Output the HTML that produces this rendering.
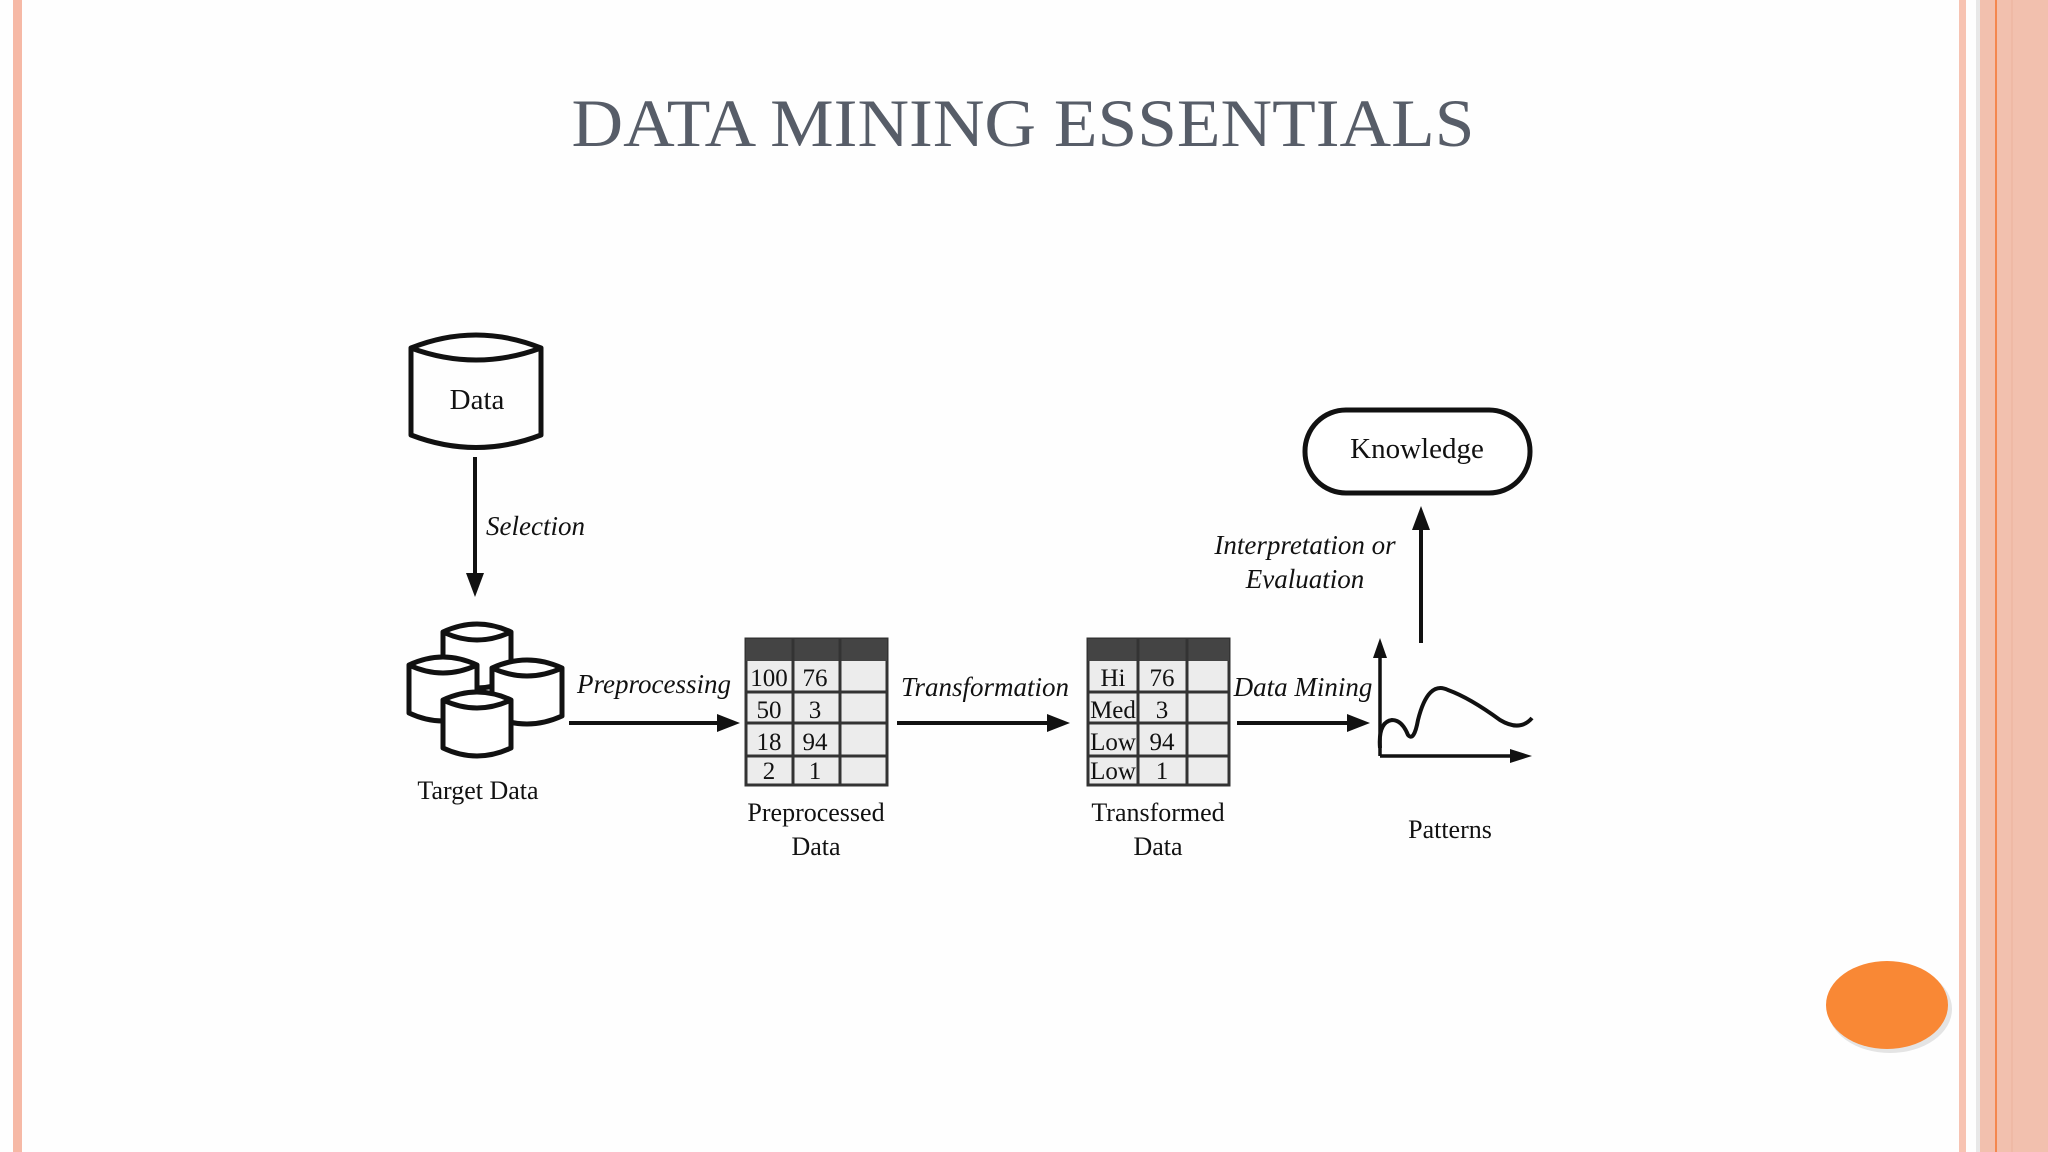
<!DOCTYPE html>
<html><head><meta charset="utf-8"><style>
html,body{margin:0;padding:0;background:#fff;}
body{width:2048px;height:1152px;overflow:hidden;position:relative;}
</style></head><body>
<svg width="2048" height="1152" viewBox="0 0 2048 1152" xmlns="http://www.w3.org/2000/svg" style="position:absolute;left:0;top:0">
<defs>
<marker id="ah" markerWidth="10" markerHeight="10" refX="9" refY="5" orient="auto" markerUnits="userSpaceOnUse" viewBox="0 0 10 10">
</marker>
</defs>
<rect width="2048" height="1152" fill="#fefefe"/>
<!-- borders -->
<rect x="13" y="0" width="9" height="1152" fill="#f6b9a6"/>
<rect x="1959" y="0" width="7" height="1152" fill="#f7c3b2"/>
<rect x="1976" y="0" width="4" height="1152" fill="#e8e8e8"/>
<rect x="1980" y="0" width="68" height="1152" fill="#f2c0ae"/>
<rect x="1995" y="0" width="2" height="1152" fill="#f4874f"/>
<rect x="2011" y="0" width="2" height="1152" fill="#efb9a5"/>
<ellipse cx="1890" cy="1009" rx="62" ry="44" fill="#c9c9c9" opacity="0.5"/>
<ellipse cx="1887" cy="1005" rx="61" ry="44" fill="#f98835"/>
<!-- title -->
<text x="1023" y="146" text-anchor="middle" font-family="Liberation Serif, serif" font-size="68" fill="#575d68" textLength="903" lengthAdjust="spacingAndGlyphs">DATA MINING ESSENTIALS</text>

<g fill="none" stroke="#111" stroke-width="5" stroke-linejoin="round">
<!-- Data cylinder -->
<path d="M411 348 Q476 322 541 348 L541 435 Q476 460 411 435 Z"/>
<path d="M411 348 Q476 372 541 348"/>
</g>
<text x="477" y="409" text-anchor="middle" font-family="Liberation Serif, serif" font-size="29" fill="#111">Data</text>
<!-- selection arrow -->
<line x1="475" y1="457" x2="475" y2="575" stroke="#111" stroke-width="4"/>
<polygon points="466,573 484,573 475,597" fill="#111"/>
<text x="486" y="535" font-family="Liberation Serif, serif" font-style="italic" font-size="27" fill="#111">Selection</text>

<!-- target data cylinders -->
<g stroke="#111" stroke-width="5" fill="#fff" stroke-linejoin="round">
<g transform="translate(443,624)"><path d="M0 8 Q34 -8 68 8 L68 56 Q34 72 0 56 Z"/><path d="M0 8 Q34 24 68 8" fill="none"/></g>
<g transform="translate(409,657)"><path d="M0 8 Q34 -8 68 8 L68 56 Q34 72 0 56 Z"/><path d="M0 8 Q34 24 68 8" fill="none"/></g>
<g transform="translate(492,660)"><path d="M0 8 Q35 -8 70 8 L70 56 Q35 72 0 56 Z"/><path d="M0 8 Q35 24 70 8" fill="none"/></g>
<g transform="translate(443,692)"><path d="M0 8 Q34 -8 68 8 L68 56 Q34 72 0 56 Z"/><path d="M0 8 Q34 24 68 8" fill="none"/></g>
</g>
<text x="478" y="799" text-anchor="middle" font-family="Liberation Serif, serif" font-size="26" fill="#111">Target Data</text>

<!-- arrows horizontal -->
<g stroke="#111" stroke-width="4">
<line x1="569" y1="723" x2="720" y2="723"/>
<line x1="897" y1="723" x2="1050" y2="723"/>
<line x1="1237" y1="723" x2="1350" y2="723"/>
<line x1="1421" y1="643" x2="1421" y2="528"/>
</g>
<g fill="#111">
<polygon points="717,714 717,732 740,723"/>
<polygon points="1047,714 1047,732 1070,723"/>
<polygon points="1347,714 1347,732 1370,723"/>
<polygon points="1412,530 1430,530 1421,506"/>
</g>
<g font-family="Liberation Serif, serif" font-style="italic" font-size="27" fill="#111" text-anchor="middle">
<text x="654" y="693">Preprocessing</text>
<text x="985" y="696">Transformation</text>
<text x="1303" y="696">Data Mining</text>
<text x="1305" y="554">Interpretation or</text>
<text x="1305" y="588">Evaluation</text>
</g>

<!-- table 1 -->
<g>
<rect x="746" y="639" width="141" height="146" fill="#ececec" stroke="#333" stroke-width="3"/>
<rect x="746" y="639" width="141" height="22" fill="#444"/>
<g stroke="#333" stroke-width="3">
<line x1="793" y1="639" x2="793" y2="785"/><line x1="840" y1="639" x2="840" y2="785"/>
<line x1="746" y1="692" x2="887" y2="692"/><line x1="746" y1="723" x2="887" y2="723"/><line x1="746" y1="756" x2="887" y2="756"/>
</g>
<g font-family="Liberation Serif, serif" font-size="25" fill="#111" text-anchor="middle">
<text x="769" y="686">100</text><text x="815" y="686">76</text>
<text x="769" y="718">50</text><text x="815" y="718">3</text>
<text x="769" y="750">18</text><text x="815" y="750">94</text>
<text x="769" y="779">2</text><text x="815" y="779">1</text>
</g>
</g>
<text x="816" y="821" text-anchor="middle" font-family="Liberation Serif, serif" font-size="26" fill="#111">Preprocessed</text>
<text x="816" y="855" text-anchor="middle" font-family="Liberation Serif, serif" font-size="26" fill="#111">Data</text>

<!-- table 2 -->
<g>
<rect x="1088" y="639" width="141" height="146" fill="#ececec" stroke="#333" stroke-width="3"/>
<rect x="1088" y="639" width="141" height="22" fill="#444"/>
<g stroke="#333" stroke-width="3">
<line x1="1138" y1="639" x2="1138" y2="785"/><line x1="1187" y1="639" x2="1187" y2="785"/>
<line x1="1088" y1="692" x2="1229" y2="692"/><line x1="1088" y1="723" x2="1229" y2="723"/><line x1="1088" y1="756" x2="1229" y2="756"/>
</g>
<g font-family="Liberation Serif, serif" font-size="25" fill="#111" text-anchor="middle">
<text x="1113" y="686">Hi</text><text x="1162" y="686">76</text>
<text x="1113" y="718">Med</text><text x="1162" y="718">3</text>
<text x="1113" y="750">Low</text><text x="1162" y="750">94</text>
<text x="1113" y="779">Low</text><text x="1162" y="779">1</text>
</g>
</g>
<text x="1158" y="821" text-anchor="middle" font-family="Liberation Serif, serif" font-size="26" fill="#111">Transformed</text>
<text x="1158" y="855" text-anchor="middle" font-family="Liberation Serif, serif" font-size="26" fill="#111">Data</text>

<!-- patterns -->
<g stroke="#111" stroke-width="3.5" fill="none">
<line x1="1380" y1="756" x2="1380" y2="655"/>
<line x1="1380" y1="756" x2="1515" y2="756"/>
<path d="M1380 748 Q1378 722 1392 720 Q1402 720 1408 735 Q1414 742 1418 720 Q1428 680 1448 690 Q1470 698 1500 720 Q1520 732 1532 718" stroke-width="4"/>
</g>
<polygon points="1373,658 1387,658 1380,638" fill="#111"/>
<polygon points="1510,749 1510,763 1532,756" fill="#111"/>
<text x="1450" y="838" text-anchor="middle" font-family="Liberation Serif, serif" font-size="26" fill="#111">Patterns</text>

<!-- knowledge -->
<rect x="1305" y="410" width="225" height="83" rx="41" fill="#fff" stroke="#111" stroke-width="5"/>
<text x="1417" y="458" text-anchor="middle" font-family="Liberation Serif, serif" font-size="29" fill="#111">Knowledge</text>
</svg>
</body></html>
